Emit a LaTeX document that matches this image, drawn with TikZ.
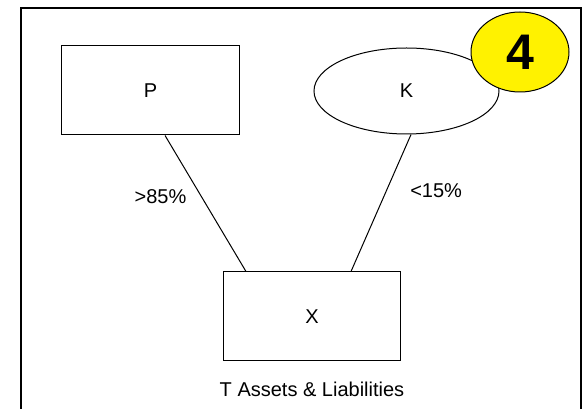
\documentclass[tikz,border=0pt]{standalone}
\usepackage{fontspec}
\setmainfont{Liberation Sans}
\usetikzlibrary{positioning,shapes.geometric}
\begin{document}
\begin{tikzpicture}[x=0.75pt,y=-0.75pt,
  every node/.style={font=\fontsize{15}{18}\selectfont},
  box/.style={draw,line width=0.75pt,minimum width=133pt,minimum height=66.75pt},
  pct/.style={inner sep=0pt}]
\useasboundingbox (0,0) rectangle (583,409);
\clip (0,0) rectangle (583,409);
\draw[line width=1.5pt] (21,8) rectangle (581,430);
\node[box] (P) at (150.5,90.5) {P};
\node[draw,ellipse,line width=0.75pt,minimum width=138.75pt,minimum height=64.5pt,inner sep=0pt] (K) at (406.5,91) {K};
\node[draw,ellipse,fill=yellow,line width=0.75pt,minimum width=73.5pt,minimum height=60pt,inner sep=0pt,font=\fontsize{37.5}{40}\selectfont\bfseries] (num) at (520,52) {4};
\node[box] (X) at (312,316.5) {X};
\node[inner sep=0pt,below=15pt of X] (caption) {T Assets \& Liabilities};
\draw[line width=0.75pt] ([xshift=10.9pt]P.south)--([xshift=-49.5pt]X.north) node[pct,pos=0.45,left=11pt] {>85\%};
\draw[line width=0.75pt] ([xshift=3.4pt]K.south)--([xshift=29.25pt]X.north) node[pct,pos=0.41,right=17.5pt] {<15\%};
\end{tikzpicture}
\end{document}
